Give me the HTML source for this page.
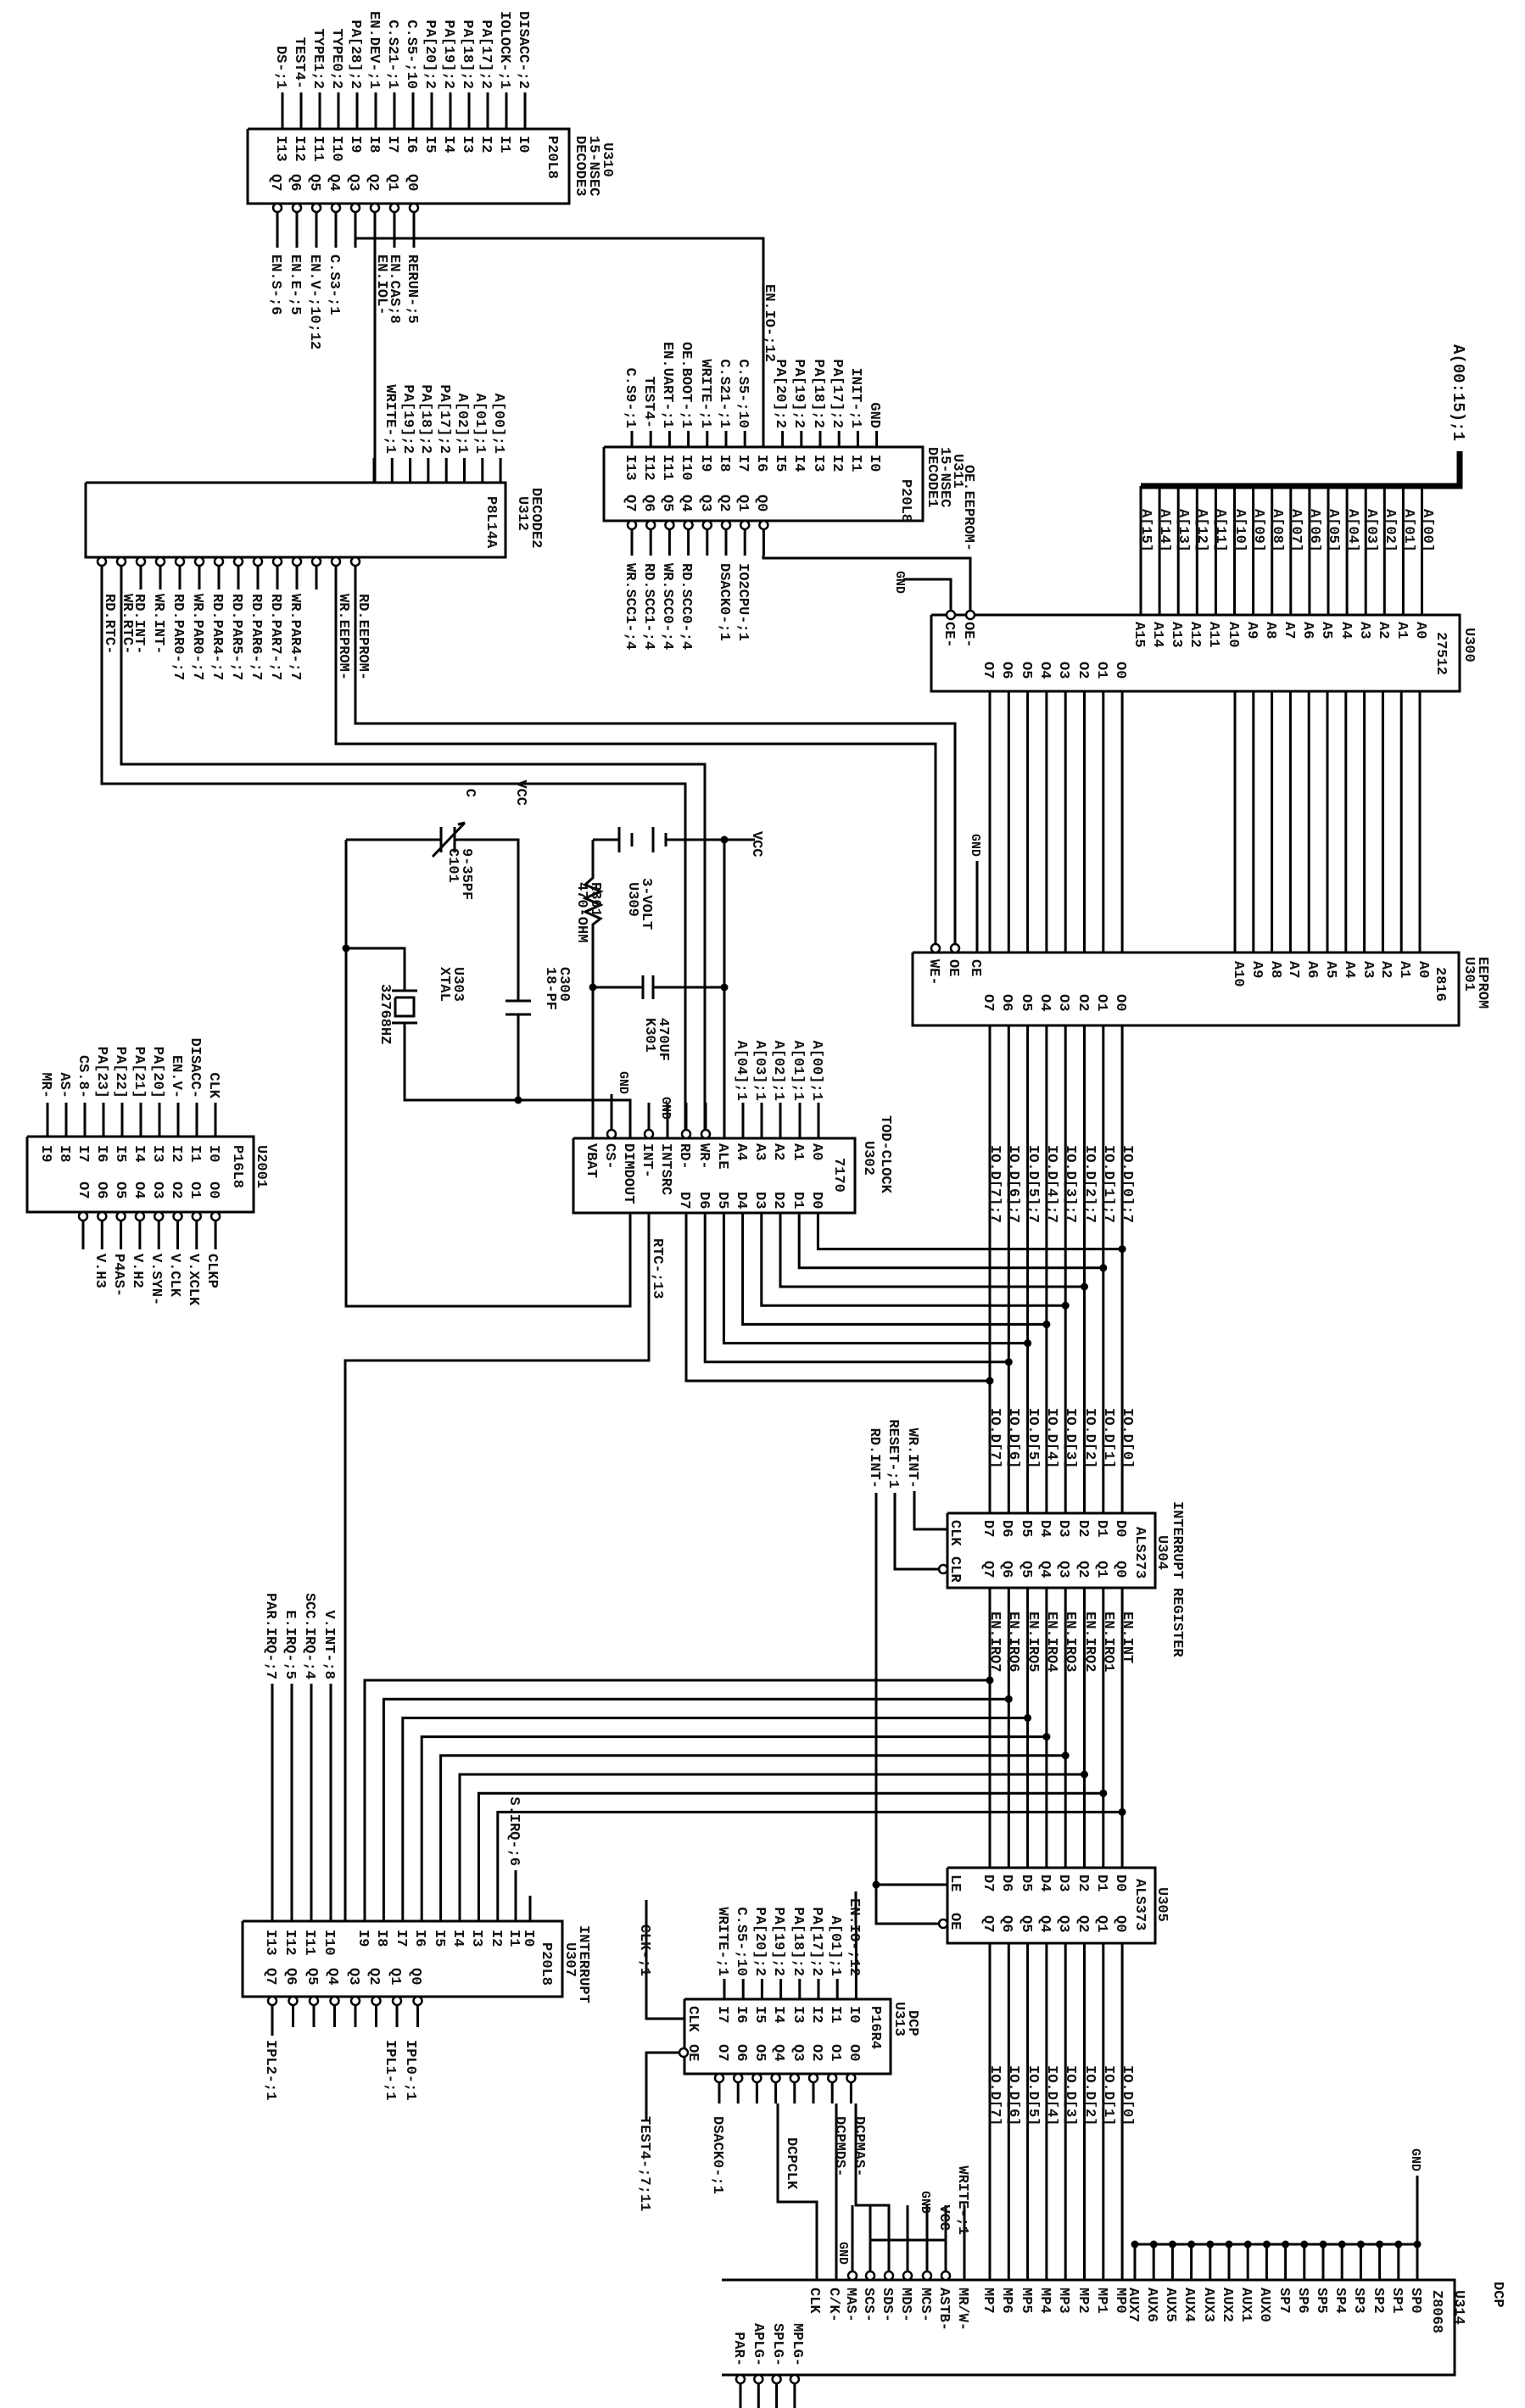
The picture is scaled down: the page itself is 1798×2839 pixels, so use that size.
<!DOCTYPE html>
<html><head><meta charset="utf-8">
<style>
html,body{margin:0;padding:0;background:#fff;}
svg{display:block;}
text{font-family:"Liberation Mono",monospace;font-weight:bold;font-size:17px;fill:#111;}
.e{text-anchor:end;}
.s{font-size:15px;}
.b{font-size:19px;}
</style></head>
<body>
<svg id="sv" xmlns="http://www.w3.org/2000/svg" width="1798" height="2839" viewBox="0 0 1798 2839">
<rect width="1798" height="2839" fill="#fff"/>
<g id="g" fill="none" stroke="#000" stroke-width="3"></g>
<g id="t">
<!-- U310 -->
<text transform="translate(327,105) rotate(90)" class="e">DS-;1</text>
<text transform="translate(349,105) rotate(90)" class="e">TEST4-</text>
<text transform="translate(371,105) rotate(90)" class="e">TYPE1;2</text>
<text transform="translate(393,105) rotate(90)" class="e">TYPE0;2</text>
<text transform="translate(415,105) rotate(90)" class="e">PA[28];2</text>
<text transform="translate(437,105) rotate(90)" class="e">EN.DEV-;1</text>
<text transform="translate(459,105) rotate(90)" class="e">C.S21-;1</text>
<text transform="translate(481,105) rotate(90)" class="e">C.S5-;10</text>
<text transform="translate(503,105) rotate(90)" class="e">PA[20];2</text>
<text transform="translate(525,105) rotate(90)" class="e">PA[19];2</text>
<text transform="translate(547,105) rotate(90)" class="e">PA[18];2</text>
<text transform="translate(569,105) rotate(90)" class="e">PA[17];2</text>
<text transform="translate(591,105) rotate(90)" class="e">IOLOCK-;1</text>
<text transform="translate(613,105) rotate(90)" class="e">DISACC-;2</text>
<text transform="translate(327,160) rotate(90)">I13</text><text transform="translate(349,160) rotate(90)">I12</text><text transform="translate(371,160) rotate(90)">I11</text><text transform="translate(393,160) rotate(90)">I10</text><text transform="translate(415,160) rotate(90)">I9</text><text transform="translate(437,160) rotate(90)">I8</text><text transform="translate(459,160) rotate(90)">I7</text><text transform="translate(481,160) rotate(90)">I6</text><text transform="translate(503,160) rotate(90)">I5</text><text transform="translate(525,160) rotate(90)">I4</text><text transform="translate(547,160) rotate(90)">I3</text><text transform="translate(569,160) rotate(90)">I2</text><text transform="translate(591,160) rotate(90)">I1</text><text transform="translate(613,160) rotate(90)">I0</text>
<text transform="translate(321,205) rotate(90)">Q7</text><text transform="translate(344,205) rotate(90)">Q6</text><text transform="translate(367,205) rotate(90)">Q5</text><text transform="translate(390,205) rotate(90)">Q4</text><text transform="translate(413,205) rotate(90)">Q3</text><text transform="translate(436,205) rotate(90)">Q2</text><text transform="translate(459,205) rotate(90)">Q1</text><text transform="translate(482,205) rotate(90)">Q0</text>
<text transform="translate(647,160) rotate(90)">P20L8</text>
<text transform="translate(680,160) rotate(90)">DECODE3</text>
<text transform="translate(696,160) rotate(90)">15-NSEC</text>
<text transform="translate(712,168) rotate(90)">U310</text>
<text transform="translate(321,300) rotate(90)">EN.S-;6</text>
<text transform="translate(344,300) rotate(90)">EN.E-;5</text>
<text transform="translate(367,300) rotate(90)">EN.V-;10;12</text>
<text transform="translate(390,300) rotate(90)">C.S3-;1</text>
<text transform="translate(446,300) rotate(90)">EN.IOL-</text>
<text transform="translate(461,300) rotate(90)">EN.CAS;8</text>
<text transform="translate(482,300) rotate(90)">RERUN-;5</text>
<text transform="translate(903,335) rotate(90)">EN.IO-;12</text>
<!-- U311 -->
<text transform="translate(739,505) rotate(90)" class="e">C.S9-;1</text>
<text transform="translate(761,505) rotate(90)" class="e">TEST4-</text>
<text transform="translate(783,505) rotate(90)" class="e">EN.UART-;1</text>
<text transform="translate(805,505) rotate(90)" class="e">OE.BOOT-;1</text>
<text transform="translate(828,505) rotate(90)" class="e">WRITE-;1</text>
<text transform="translate(850,505) rotate(90)" class="e">C.S21-;1</text>
<text transform="translate(872,505) rotate(90)" class="e">C.S5-;10</text>
<text transform="translate(916,505) rotate(90)" class="e">PA[20];2</text>
<text transform="translate(938,505) rotate(90)" class="e">PA[19];2</text>
<text transform="translate(961,505) rotate(90)" class="e">PA[18];2</text>
<text transform="translate(983,505) rotate(90)" class="e">PA[17];2</text>
<text transform="translate(1005,505) rotate(90)" class="e">INIT-;1</text>
<text transform="translate(1027,505) rotate(90)" class="e">GND</text>
<text transform="translate(739,536) rotate(90)">I13</text><text transform="translate(761,536) rotate(90)">I12</text><text transform="translate(783,536) rotate(90)">I11</text><text transform="translate(805,536) rotate(90)">I10</text><text transform="translate(828,536) rotate(90)">I9</text><text transform="translate(850,536) rotate(90)">I8</text><text transform="translate(872,536) rotate(90)">I7</text><text transform="translate(894,536) rotate(90)">I6</text><text transform="translate(916,536) rotate(90)">I5</text><text transform="translate(938,536) rotate(90)">I4</text><text transform="translate(961,536) rotate(90)">I3</text><text transform="translate(983,536) rotate(90)">I2</text><text transform="translate(1005,536) rotate(90)">I1</text><text transform="translate(1027,536) rotate(90)">I0</text>
<text transform="translate(739,583) rotate(90)">Q7</text><text transform="translate(761,583) rotate(90)">Q6</text><text transform="translate(783,583) rotate(90)">Q5</text><text transform="translate(805,583) rotate(90)">Q4</text><text transform="translate(828,583) rotate(90)">Q3</text><text transform="translate(850,583) rotate(90)">Q2</text><text transform="translate(872,583) rotate(90)">Q1</text><text transform="translate(894,583) rotate(90)">Q0</text>
<text transform="translate(1064,565) rotate(90)">P20L8</text>
<text transform="translate(1095,527) rotate(90)">DECODE1</text>
<text transform="translate(1110,527) rotate(90)">15-NSEC</text>
<text transform="translate(1125,535) rotate(90)">U311</text>
<text transform="translate(739,664) rotate(90)">WR.SCC1-;4</text>
<text transform="translate(761,664) rotate(90)">RD.SCC1-;4</text>
<text transform="translate(783,664) rotate(90)">WR.SCC0-;4</text>
<text transform="translate(805,664) rotate(90)">RD.SCC0-;4</text>
<text transform="translate(850,664) rotate(90)">DSACK0-;1</text>
<text transform="translate(872,664) rotate(90)">IO2CPU-;1</text>
<text transform="translate(1138,650) rotate(90)" class="e">OE.EEPROM-</text>
<text transform="translate(1057,700) rotate(90)" class="e s">GND</text>
<!-- U312 -->
<text transform="translate(456,535) rotate(90)" class="e">WRITE-;1</text>
<text transform="translate(477,535) rotate(90)" class="e">PA[19];2</text>
<text transform="translate(498,535) rotate(90)" class="e">PA[18];2</text>
<text transform="translate(520,535) rotate(90)" class="e">PA[17];2</text>
<text transform="translate(541,535) rotate(90)" class="e">A[02];1</text>
<text transform="translate(562,535) rotate(90)" class="e">A[01];1</text>
<text transform="translate(584,535) rotate(90)" class="e">A[00];1</text>
<text transform="translate(575,585) rotate(90)">P8L14A</text>
<text transform="translate(612,585) rotate(90)">U312</text>
<text transform="translate(628,575) rotate(90)">DECODE2</text>
<text transform="translate(125,700) rotate(90)">RD.RTC-</text>
<text transform="translate(146,700) rotate(90)">WR.RTC-</text>
<text transform="translate(160,700) rotate(90)">RD.INT-</text>
<text transform="translate(183,700) rotate(90)">WR.INT-</text>
<text transform="translate(206,700) rotate(90)">RD.PAR0-;7</text>
<text transform="translate(229,700) rotate(90)">WR.PAR0-;7</text>
<text transform="translate(252,700) rotate(90)">RD.PAR4-;7</text>
<text transform="translate(275,700) rotate(90)">RD.PAR5-;7</text>
<text transform="translate(298,700) rotate(90)">RD.PAR6-;7</text>
<text transform="translate(321,700) rotate(90)">RD.PAR7-;7</text>
<text transform="translate(344,700) rotate(90)">WR.PAR4-;7</text>
<text transform="translate(401,700) rotate(90)">WR.EEPROM-</text>
<text transform="translate(424,700) rotate(90)">RD.EEPROM-</text>
<!-- U300 -->
<text transform="translate(1714,520) rotate(90)" class="e b">A(00:15);1</text>
<g transform="translate(8,0)">
<text transform="translate(1339,600) rotate(90)">A[15]</text><text transform="translate(1361,600) rotate(90)">A[14]</text><text transform="translate(1383,600) rotate(90)">A[13]</text><text transform="translate(1405,600) rotate(90)">A[12]</text><text transform="translate(1427,600) rotate(90)">A[11]</text><text transform="translate(1450,600) rotate(90)">A[10]</text><text transform="translate(1472,600) rotate(90)">A[09]</text><text transform="translate(1494,600) rotate(90)">A[08]</text><text transform="translate(1516,600) rotate(90)">A[07]</text><text transform="translate(1538,600) rotate(90)">A[06]</text><text transform="translate(1560,600) rotate(90)">A[05]</text><text transform="translate(1583,600) rotate(90)">A[04]</text><text transform="translate(1605,600) rotate(90)">A[03]</text><text transform="translate(1627,600) rotate(90)">A[02]</text><text transform="translate(1649,600) rotate(90)">A[01]</text><text transform="translate(1671,600) rotate(90)">A[00]</text>
</g>
<text transform="translate(1339,733) rotate(90)">A15</text><text transform="translate(1361,733) rotate(90)">A14</text><text transform="translate(1383,733) rotate(90)">A13</text><text transform="translate(1405,733) rotate(90)">A12</text><text transform="translate(1427,733) rotate(90)">A11</text><text transform="translate(1450,733) rotate(90)">A10</text><text transform="translate(1472,733) rotate(90)">A9</text><text transform="translate(1494,733) rotate(90)">A8</text><text transform="translate(1516,733) rotate(90)">A7</text><text transform="translate(1538,733) rotate(90)">A6</text><text transform="translate(1560,733) rotate(90)">A5</text><text transform="translate(1583,733) rotate(90)">A4</text><text transform="translate(1605,733) rotate(90)">A3</text><text transform="translate(1627,733) rotate(90)">A2</text><text transform="translate(1649,733) rotate(90)">A1</text><text transform="translate(1671,733) rotate(90)">A0</text>
<text transform="translate(1115,733) rotate(90)">CE-</text><text transform="translate(1138,733) rotate(90)">OE-</text>
<text transform="translate(1161,780) rotate(90)">O7</text><text transform="translate(1183,780) rotate(90)">O6</text><text transform="translate(1206,780) rotate(90)">O5</text><text transform="translate(1228,780) rotate(90)">O4</text><text transform="translate(1250,780) rotate(90)">O3</text><text transform="translate(1273,780) rotate(90)">O2</text><text transform="translate(1295,780) rotate(90)">O1</text><text transform="translate(1317,780) rotate(90)">O0</text>
<text transform="translate(1695,745) rotate(90)">27512</text>
<text transform="translate(1728,740) rotate(90)">U300</text>
<!-- U301 -->
<text transform="translate(1456,1133) rotate(90)">A10</text><text transform="translate(1478,1133) rotate(90)">A9</text><text transform="translate(1500,1133) rotate(90)">A8</text><text transform="translate(1521,1133) rotate(90)">A7</text><text transform="translate(1543,1133) rotate(90)">A6</text><text transform="translate(1565,1133) rotate(90)">A5</text><text transform="translate(1587,1133) rotate(90)">A4</text><text transform="translate(1609,1133) rotate(90)">A3</text><text transform="translate(1630,1133) rotate(90)">A2</text><text transform="translate(1652,1133) rotate(90)">A1</text><text transform="translate(1674,1133) rotate(90)">A0</text>
<text transform="translate(1097,1131) rotate(90)">WE-</text><text transform="translate(1120,1131) rotate(90)">OE</text><text transform="translate(1146,1131) rotate(90)">CE</text>
<text transform="translate(1161,1172) rotate(90)">O7</text><text transform="translate(1183,1172) rotate(90)">O6</text><text transform="translate(1206,1172) rotate(90)">O5</text><text transform="translate(1228,1172) rotate(90)">O4</text><text transform="translate(1250,1172) rotate(90)">O3</text><text transform="translate(1273,1172) rotate(90)">O2</text><text transform="translate(1295,1172) rotate(90)">O1</text><text transform="translate(1317,1172) rotate(90)">O0</text>
<text transform="translate(1694,1140) rotate(90)">2816</text>
<text transform="translate(1728,1128) rotate(90)">U301</text>
<text transform="translate(1744,1128) rotate(90)">EEPROM</text>
<text transform="translate(1146,1010) rotate(90)" class="e s">GND</text>
<g transform="translate(8,0)">
<text transform="translate(1161,1350) rotate(90)">IO.D[7];7</text><text transform="translate(1183,1350) rotate(90)">IO.D[6];7</text><text transform="translate(1206,1350) rotate(90)">IO.D[5];7</text><text transform="translate(1228,1350) rotate(90)">IO.D[4];7</text><text transform="translate(1250,1350) rotate(90)">IO.D[3];7</text><text transform="translate(1273,1350) rotate(90)">IO.D[2];7</text><text transform="translate(1295,1350) rotate(90)">IO.D[1];7</text><text transform="translate(1317,1350) rotate(90)">IO.D[0];7</text>
</g>
<!-- U302 + crystal -->
<text transform="translate(693,1348) rotate(90)">VBAT</text><text transform="translate(715,1348) rotate(90)">CS-</text><text transform="translate(737,1348) rotate(90)">DIMDOUT</text><text transform="translate(759,1348) rotate(90)">INT-</text><text transform="translate(781,1348) rotate(90)">INTSRC</text><text transform="translate(803,1348) rotate(90)">RD-</text><text transform="translate(826,1348) rotate(90)">WR-</text><text transform="translate(848,1348) rotate(90)">ALE</text><text transform="translate(870,1348) rotate(90)">A4</text><text transform="translate(892,1348) rotate(90)">A3</text><text transform="translate(914,1348) rotate(90)">A2</text><text transform="translate(937,1348) rotate(90)">A1</text><text transform="translate(959,1348) rotate(90)">A0</text>
<text transform="translate(803,1405) rotate(90)">D7</text><text transform="translate(826,1405) rotate(90)">D6</text><text transform="translate(848,1405) rotate(90)">D5</text><text transform="translate(870,1405) rotate(90)">D4</text><text transform="translate(892,1405) rotate(90)">D3</text><text transform="translate(914,1405) rotate(90)">D2</text><text transform="translate(937,1405) rotate(90)">D1</text><text transform="translate(959,1405) rotate(90)">D0</text>
<text transform="translate(985,1365) rotate(90)">7170</text>
<text transform="translate(1020,1345) rotate(90)">U302</text>
<text transform="translate(1040,1315) rotate(90)">TOD-CLOCK</text>
<text transform="translate(870,1298) rotate(90)" class="e">A[04];1</text><text transform="translate(892,1298) rotate(90)" class="e">A[03];1</text><text transform="translate(914,1298) rotate(90)" class="e">A[02];1</text><text transform="translate(937,1298) rotate(90)" class="e">A[01];1</text><text transform="translate(959,1298) rotate(90)" class="e">A[00];1</text>
<text transform="translate(781,1320) rotate(90)" class="e s">GND</text><text transform="translate(731,1290) rotate(90)" class="e s">GND</text>
<text transform="translate(771,1460) rotate(90)">RTC-;13</text>
<text transform="translate(530,1000) rotate(90)">C101</text><text transform="translate(546,1000) rotate(90)">9-35PF</text>
<text transform="translate(610,950) rotate(90)" class="e">VCC</text><text transform="translate(550,940) rotate(90)" class="e">C</text>
<text transform="translate(520,1140) rotate(90)">XTAL</text><text transform="translate(536,1140) rotate(90)">U303</text>
<text transform="translate(450,1160) rotate(90)">32768HZ</text>
<text transform="translate(645,1140) rotate(90)">18-PF</text><text transform="translate(661,1140) rotate(90)">C300</text>
<text transform="translate(742,1040) rotate(90)">U309</text><text transform="translate(758,1035) rotate(90)">3-VOLT</text>
<text transform="translate(682,1040) rotate(90)">470-OHM</text><text transform="translate(698,1040) rotate(90)">R301</text>
<text transform="translate(762,1200) rotate(90)">K301</text><text transform="translate(778,1200) rotate(90)">470UF</text>
<text transform="translate(888,980) rotate(90)">VCC</text>
<!-- U2001 -->
<text transform="translate(50,1295) rotate(90)" class="e">MR-</text><text transform="translate(72,1295) rotate(90)" class="e">AS-</text><text transform="translate(94,1295) rotate(90)" class="e">CS.8-</text><text transform="translate(116,1295) rotate(90)" class="e">PA[23]</text><text transform="translate(138,1295) rotate(90)" class="e">PA[22]</text><text transform="translate(160,1295) rotate(90)" class="e">PA[21]</text><text transform="translate(182,1295) rotate(90)" class="e">PA[20]</text><text transform="translate(204,1295) rotate(90)" class="e">EN.V-</text><text transform="translate(226,1295) rotate(90)" class="e">DISACC-</text><text transform="translate(248,1295) rotate(90)" class="e">CLK</text>
<text transform="translate(50,1350) rotate(90)">I9</text><text transform="translate(72,1350) rotate(90)">I8</text><text transform="translate(94,1350) rotate(90)">I7</text><text transform="translate(116,1350) rotate(90)">I6</text><text transform="translate(138,1350) rotate(90)">I5</text><text transform="translate(160,1350) rotate(90)">I4</text><text transform="translate(182,1350) rotate(90)">I3</text><text transform="translate(204,1350) rotate(90)">I2</text><text transform="translate(226,1350) rotate(90)">I1</text><text transform="translate(248,1350) rotate(90)">I0</text>
<text transform="translate(94,1393) rotate(90)">O7</text><text transform="translate(116,1393) rotate(90)">O6</text><text transform="translate(138,1393) rotate(90)">O5</text><text transform="translate(160,1393) rotate(90)">O4</text><text transform="translate(182,1393) rotate(90)">O3</text><text transform="translate(204,1393) rotate(90)">O2</text><text transform="translate(226,1393) rotate(90)">O1</text><text transform="translate(248,1393) rotate(90)">O0</text>
<text transform="translate(276,1350) rotate(90)">P16L8</text><text transform="translate(304,1350) rotate(90)">U2001</text>
<text transform="translate(114,1478) rotate(90)">V.H3</text><text transform="translate(136,1478) rotate(90)">P4AS-</text><text transform="translate(158,1478) rotate(90)">V.H2</text><text transform="translate(180,1478) rotate(90)">V.SYN-</text><text transform="translate(202,1478) rotate(90)">V.CLK</text><text transform="translate(224,1478) rotate(90)">V.XCLK</text><text transform="translate(246,1478) rotate(90)">CLKP</text>
<!-- U304 -->
<g transform="translate(8,0)">
<text transform="translate(1161,1660) rotate(90)">IO.D[7]</text><text transform="translate(1183,1660) rotate(90)">IO.D[6]</text><text transform="translate(1206,1660) rotate(90)">IO.D[5]</text><text transform="translate(1228,1660) rotate(90)">IO.D[4]</text><text transform="translate(1250,1660) rotate(90)">IO.D[3]</text><text transform="translate(1273,1660) rotate(90)">IO.D[2]</text><text transform="translate(1295,1660) rotate(90)">IO.D[1]</text><text transform="translate(1317,1660) rotate(90)">IO.D[0]</text>
</g>
<text transform="translate(1072,1755) rotate(90)" class="e">WR.INT-</text><text transform="translate(1049,1755) rotate(90)" class="e">RESET-;1</text><text transform="translate(1027,1755) rotate(90)" class="e">RD.INT-</text>
<text transform="translate(1122,1792) rotate(90)">CLK</text><text transform="translate(1122,1835) rotate(90)">CLR</text>
<text transform="translate(1161,1792) rotate(90)">D7</text><text transform="translate(1183,1792) rotate(90)">D6</text><text transform="translate(1206,1792) rotate(90)">D5</text><text transform="translate(1228,1792) rotate(90)">D4</text><text transform="translate(1250,1792) rotate(90)">D3</text><text transform="translate(1273,1792) rotate(90)">D2</text><text transform="translate(1295,1792) rotate(90)">D1</text><text transform="translate(1317,1792) rotate(90)">D0</text>
<text transform="translate(1161,1840) rotate(90)">Q7</text><text transform="translate(1183,1840) rotate(90)">Q6</text><text transform="translate(1206,1840) rotate(90)">Q5</text><text transform="translate(1228,1840) rotate(90)">Q4</text><text transform="translate(1250,1840) rotate(90)">Q3</text><text transform="translate(1273,1840) rotate(90)">Q2</text><text transform="translate(1295,1840) rotate(90)">Q1</text><text transform="translate(1317,1840) rotate(90)">Q0</text>
<text transform="translate(1340,1800) rotate(90)">ALS273</text><text transform="translate(1366,1810) rotate(90)">U304</text><text transform="translate(1384,1770) rotate(90)">INTERRUPT REGISTER</text>
<g transform="translate(8,0)">
<text transform="translate(1161,1900) rotate(90)">EN.IRQ7</text><text transform="translate(1183,1900) rotate(90)">EN.IRQ6</text><text transform="translate(1206,1900) rotate(90)">EN.IRQ5</text><text transform="translate(1228,1900) rotate(90)">EN.IRQ4</text><text transform="translate(1250,1900) rotate(90)">EN.IRQ3</text><text transform="translate(1273,1900) rotate(90)">EN.IRQ2</text><text transform="translate(1295,1900) rotate(90)">EN.IRQ1</text><text transform="translate(1317,1900) rotate(90)">EN.INT</text>
</g>
<!-- U305 -->
<text transform="translate(1122,2210) rotate(90)">LE</text><text transform="translate(1122,2255) rotate(90)">OE</text>
<text transform="translate(1161,2210) rotate(90)">D7</text><text transform="translate(1183,2210) rotate(90)">D6</text><text transform="translate(1206,2210) rotate(90)">D5</text><text transform="translate(1228,2210) rotate(90)">D4</text><text transform="translate(1250,2210) rotate(90)">D3</text><text transform="translate(1273,2210) rotate(90)">D2</text><text transform="translate(1295,2210) rotate(90)">D1</text><text transform="translate(1317,2210) rotate(90)">D0</text>
<text transform="translate(1161,2258) rotate(90)">Q7</text><text transform="translate(1183,2258) rotate(90)">Q6</text><text transform="translate(1206,2258) rotate(90)">Q5</text><text transform="translate(1228,2258) rotate(90)">Q4</text><text transform="translate(1250,2258) rotate(90)">Q3</text><text transform="translate(1273,2258) rotate(90)">Q2</text><text transform="translate(1295,2258) rotate(90)">Q1</text><text transform="translate(1317,2258) rotate(90)">Q0</text>
<text transform="translate(1340,2215) rotate(90)">ALS373</text><text transform="translate(1366,2225) rotate(90)">U305</text>
<g transform="translate(8,0)">
<text transform="translate(1161,2435) rotate(90)">IO.D[7]</text><text transform="translate(1183,2435) rotate(90)">IO.D[6]</text><text transform="translate(1206,2435) rotate(90)">IO.D[5]</text><text transform="translate(1228,2435) rotate(90)">IO.D[4]</text><text transform="translate(1250,2435) rotate(90)">IO.D[3]</text><text transform="translate(1273,2435) rotate(90)">IO.D[2]</text><text transform="translate(1295,2435) rotate(90)">IO.D[1]</text><text transform="translate(1317,2435) rotate(90)">IO.D[0]</text>
</g>
<!-- U307 -->
<text transform="translate(315,1980) rotate(90)" class="e">PAR.IRQ-;7</text><text transform="translate(338,1980) rotate(90)" class="e">E.IRQ-;5</text><text transform="translate(361,1980) rotate(90)" class="e">SCC.IRQ-;4</text><text transform="translate(384,1980) rotate(90)" class="e">V.INT-;8</text>
<text transform="translate(602,2200) rotate(90)" class="e">S.IRQ-;6</text>
<text transform="translate(315,2275) rotate(90)">I13</text><text transform="translate(338,2275) rotate(90)">I12</text><text transform="translate(361,2275) rotate(90)">I11</text><text transform="translate(384,2275) rotate(90)">I10</text><text transform="translate(424,2275) rotate(90)">I9</text><text transform="translate(446,2275) rotate(90)">I8</text><text transform="translate(469,2275) rotate(90)">I7</text><text transform="translate(491,2275) rotate(90)">I6</text><text transform="translate(514,2275) rotate(90)">I5</text><text transform="translate(536,2275) rotate(90)">I4</text><text transform="translate(558,2275) rotate(90)">I3</text><text transform="translate(581,2275) rotate(90)">I2</text><text transform="translate(602,2275) rotate(90)">I1</text><text transform="translate(619,2275) rotate(90)">I0</text>
<text transform="translate(315,2320) rotate(90)">Q7</text><text transform="translate(339,2320) rotate(90)">Q6</text><text transform="translate(364,2320) rotate(90)">Q5</text><text transform="translate(388,2320) rotate(90)">Q4</text><text transform="translate(413,2320) rotate(90)">Q3</text><text transform="translate(437,2320) rotate(90)">Q2</text><text transform="translate(462,2320) rotate(90)">Q1</text><text transform="translate(486,2320) rotate(90)">Q0</text>
<text transform="translate(640,2290) rotate(90)">P20L8</text><text transform="translate(668,2290) rotate(90)">U307</text><text transform="translate(684,2270) rotate(90)">INTERRUPT</text>
<text transform="translate(315,2405) rotate(90)">IPL2-;1</text><text transform="translate(456,2405) rotate(90)">IPL1-;1</text><text transform="translate(480,2405) rotate(90)">IPL0-;1</text>
<!-- U313 -->
<text transform="translate(756,2330) rotate(90)" class="e">CLK-;1</text>
<text transform="translate(848,2330) rotate(90)" class="e">WRITE-;1</text><text transform="translate(870,2330) rotate(90)" class="e">C.S5-;10</text><text transform="translate(892,2330) rotate(90)" class="e">PA[20];2</text><text transform="translate(914,2330) rotate(90)" class="e">PA[19];2</text><text transform="translate(937,2330) rotate(90)" class="e">PA[18];2</text><text transform="translate(959,2330) rotate(90)" class="e">PA[17];2</text><text transform="translate(981,2330) rotate(90)" class="e">A[01];1</text><text transform="translate(1003,2330) rotate(90)" class="e">EN.IO-;12</text>
<text transform="translate(813,2365) rotate(90)">CLK</text><text transform="translate(813,2410) rotate(90)">OE</text>
<text transform="translate(848,2365) rotate(90)">I7</text><text transform="translate(870,2365) rotate(90)">I6</text><text transform="translate(892,2365) rotate(90)">I5</text><text transform="translate(914,2365) rotate(90)">I4</text><text transform="translate(937,2365) rotate(90)">I3</text><text transform="translate(959,2365) rotate(90)">I2</text><text transform="translate(981,2365) rotate(90)">I1</text><text transform="translate(1003,2365) rotate(90)">I0</text>
<text transform="translate(848,2410) rotate(90)">O7</text><text transform="translate(870,2410) rotate(90)">O6</text><text transform="translate(892,2410) rotate(90)">O5</text><text transform="translate(914,2410) rotate(90)">Q4</text><text transform="translate(937,2410) rotate(90)">Q3</text><text transform="translate(959,2410) rotate(90)">O2</text><text transform="translate(981,2410) rotate(90)">O1</text><text transform="translate(1003,2410) rotate(90)">O0</text>
<text transform="translate(1028,2365) rotate(90)">P16R4</text><text transform="translate(1056,2360) rotate(90)">U313</text><text transform="translate(1072,2370) rotate(90)">DCP</text>
<text transform="translate(756,2495) rotate(90)">TEST4-;7;11</text>
<text transform="translate(842,2495) rotate(90)">DSACK0-;1</text>
<text transform="translate(929,2520) rotate(90)">DCPCLK</text>
<text transform="translate(986,2495) rotate(90)">DCPMDS-</text>
<text transform="translate(1009,2495) rotate(90)">DCPMAS-</text>
<!-- U314 -->
<text transform="translate(1131,2635) rotate(90)" class="e">WRITE-;1</text>
<text transform="translate(1109,2630) rotate(90)" class="e">VCC</text>
<text transform="translate(1087,2610) rotate(90)" class="e s">GND</text>
<text transform="translate(990,2670) rotate(90)" class="e s">GND</text>
<text transform="translate(1665,2560) rotate(90)" class="e s">GND</text>
<text transform="translate(956,2697) rotate(90)">CLK</text><text transform="translate(979,2697) rotate(90)">C/K-</text><text transform="translate(999,2697) rotate(90)">MAS-</text><text transform="translate(1020,2697) rotate(90)">SCS-</text><text transform="translate(1042,2697) rotate(90)">SDS-</text><text transform="translate(1064,2697) rotate(90)">MDS-</text><text transform="translate(1087,2697) rotate(90)">MCS-</text><text transform="translate(1109,2697) rotate(90)">ASTB-</text><text transform="translate(1131,2697) rotate(90)">MR/W-</text>
<text transform="translate(1161,2697) rotate(90)">MP7</text><text transform="translate(1183,2697) rotate(90)">MP6</text><text transform="translate(1206,2697) rotate(90)">MP5</text><text transform="translate(1228,2697) rotate(90)">MP4</text><text transform="translate(1250,2697) rotate(90)">MP3</text><text transform="translate(1273,2697) rotate(90)">MP2</text><text transform="translate(1295,2697) rotate(90)">MP1</text><text transform="translate(1317,2697) rotate(90)">MP0</text>
<text transform="translate(1332,2697) rotate(90)">AUX7</text><text transform="translate(1354,2697) rotate(90)">AUX6</text><text transform="translate(1376,2697) rotate(90)">AUX5</text><text transform="translate(1398,2697) rotate(90)">AUX4</text><text transform="translate(1421,2697) rotate(90)">AUX3</text><text transform="translate(1443,2697) rotate(90)">AUX2</text><text transform="translate(1465,2697) rotate(90)">AUX1</text><text transform="translate(1487,2697) rotate(90)">AUX0</text><text transform="translate(1510,2697) rotate(90)">SP7</text><text transform="translate(1532,2697) rotate(90)">SP6</text><text transform="translate(1554,2697) rotate(90)">SP5</text><text transform="translate(1576,2697) rotate(90)">SP4</text><text transform="translate(1598,2697) rotate(90)">SP3</text><text transform="translate(1621,2697) rotate(90)">SP2</text><text transform="translate(1643,2697) rotate(90)">SP1</text><text transform="translate(1665,2697) rotate(90)">SP0</text>
<text transform="translate(1690,2700) rotate(90)">Z8068</text><text transform="translate(1716,2700) rotate(90)">U314</text><text transform="translate(1762,2690) rotate(90)">DCP</text>
<text transform="translate(867,2790) rotate(90)" class="e">PAR-</text><text transform="translate(890,2790) rotate(90)" class="e">APLG-</text><text transform="translate(913,2790) rotate(90)" class="e">SPLG-</text><text transform="translate(936,2790) rotate(90)" class="e">MPLG-</text>
</g>
<g id="d" fill="#000" stroke="none"></g>
<g id="bb" fill="#fff" stroke="#000" stroke-width="2.5"></g>
</svg>
<script>
var NS="http://www.w3.org/2000/svg";
var G=document.getElementById('g'),Dg=document.getElementById('d'),Bg=document.getElementById('bb');
function L(a,w){var p=document.createElementNS(NS,'polyline');var s=[];for(var i=0;i<a.length;i+=2)s.push(a[i]+','+a[i+1]);p.setAttribute('points',s.join(' '));if(w)p.setAttribute('stroke-width',w);G.appendChild(p);}
function R(x1,y1,x2,y2){L([x1,y1,x2,y1,x2,y2,x1,y2,x1,y1]);}
function D(x,y){var c=document.createElementNS(NS,'circle');c.setAttribute('cx',x);c.setAttribute('cy',y);c.setAttribute('r',4.5);Dg.appendChild(c);}
function B(x,y){var c=document.createElementNS(NS,'circle');c.setAttribute('cx',x);c.setAttribute('cy',y);c.setAttribute('r',5);Bg.appendChild(c);}
var i,x,y;
function xd(i){return 1167+22.3*i;}
// U310
R(292,152,671,240);
for(i=0;i<14;i++){x=333+22*i;L([x,109,x,152]);}
for(i=0;i<8;i++){x=327+23*i;B(x,245);L([x,250,x,292]);}
L([419,281,900,281,900,527]);
L([442,281,442,569]);
// U311
R(712,527,1088,614);
for(i=0;i<14;i++){x=745+22.2*i;if(i!=7)L([x,508,x,527]);}
for(i=0;i<8;i++){x=745+22.2*i;B(x,619);L([x,624,x,655]);}
L([900,655,900,658,1144,658,1144,720]);B(1144,725);
L([1065,683,1121,683,1121,720]);B(1121,725);
// U312
R(101,569,596,657);
for(i=0;i<8;i++){x=441+21.3*i;L([x,540,x,569]);}
for(i=0;i<14;i++){x=120+23*i;B(x,662);L([x,667,x,695]);}
L([120,695,120,924,808,924,808,1335]);
L([143,695,143,901,831,901,831,1335]);
L([396,695,396,877,1103,877,1103,1118]);
L([419,695,419,853,1126,853,1126,1118]);
B(1103,1118);B(1126,1118);
// U300
R(1098,725,1721,815);
L([1345,573,1721,573,1721,532],7);
for(i=0;i<16;i++){x=1345+22.1*i;L([x,573,x,725]);}
for(i=0;i<8;i++){L([xd(i),815,xd(i),1123]);}
for(i=0;i<11;i++){x=1456+21.8*i;L([x,815,x,1123]);}
// U301
R(1076,1123,1720,1209);
L([1152,1123,1152,1015]);
for(i=0;i<8;i++){L([xd(i),1209,xd(i),1784]);}
// U302
R(676,1342,1008,1430);
var tp=[699,721,743,765,787,809,832,854,876,898,920,943,965];
for(i=0;i<13;i++){x=tp[i];if(i==1||i==3||i==5||i==6)B(x,1337);L([x,1300,x,(i==1||i==3||i==5||i==6)?1332:1342]);}
for(i=0;i<8;i++){x=809+22.2*i;y=1628-22.2*i;L([x,1430,x,y,xd(i),y]);D(xd(i),y);}
L([765,1430,765,1604,407,1604,407,2266]);
// crystal area
L([408,990,520,990]);L([536,990,611,990,611,1180]);L([611,1196,611,1297]);
L([520,975,520,1005]);L([536,975,536,1005]);L([510,1010,548,970]);L([548,970,540,972]);
L([596,1180,626,1180]);L([596,1196,626,1196]);
L([408,990,408,1540,743,1540,743,1430]);
L([408,1118,477,1118,477,1168]);L([462,1168,492,1168]);R(466,1176,488,1198);L([462,1206,492,1206]);L([477,1206,477,1297,743,1297,743,1342]);D(611,1297);D(408,1118);
L([699,990,730,990]);L([730,975,730,1005]);L([745,982,745,998]);L([770,975,770,1005]);L([785,982,785,998]);L([785,990,854,990,890,990]);
L([699,990,699,1035,690,1043,708,1051,690,1059,708,1067,690,1075,708,1083,699,1090,699,1300]);
L([699,1164,758,1164]);L([758,1150,758,1178]);L([770,1150,770,1178]);L([770,1164,854,1164]);
L([854,990,854,1300]);D(854,990);D(699,1164);D(854,1164);
L([721,1300,721,1290]);L([787,1300,787,1320]);
// U2001
R(32,1340,299,1429);
for(i=0;i<10;i++){x=56+22*i;L([x,1300,x,1340]);}
for(i=0;i<8;i++){x=98+22.3*i;B(x,1434);L([x,1439,x,1473]);}
// U304
R(1117,1784,1362,1872);
L([1078,1758,1078,1803,1117,1803]);
L([1055,1760,1055,1850,1107,1850]);B(1112,1850);
L([1033,1760,1033,2268,1107,2268]);B(1112,2268);
L([1033,2222,1118,2222]);D(1033,2222);
for(i=0;i<8;i++){L([xd(i),1872,xd(i),2202]);}
for(i=0;i<8;i++){y=1981+22.2*i;x=430+22.4*i;L([x,2266,x,y,xd(i),y]);D(xd(i),y);}
// U307
R(286,2265,663,2354);
var up=[321,344,367,390];for(i=0;i<4;i++){L([up[i],1985,up[i],2265]);}
L([608,2205,608,2265]);L([625,2235,625,2265]);
for(i=0;i<8;i++){x=321+24.5*i;B(x,2359);L([x,2364,x,2390]);}
L([321,2390,321,2400]);
// U305
R(1117,2202,1362,2291);
for(i=0;i<8;i++){L([xd(i),2291,xd(i),2688]);}
// U313
R(807,2357,1050,2445);
for(i=0;i<8;i++){x=854+22.2*i;L([x,(i==7?2270:2333),x,2357]);}
L([1009,2270,1009,2230]);
L([762,2240,762,2380,807,2380]);
L([762,2500,762,2420,801,2420]);B(806,2420);
for(i=0;i<8;i++){x=848+22.2*i;B(x,2450);L([x,2455,x,2480]);}
L([917,2480,917,2596,963,2596,963,2688]);
L([986,2480,986,2688]);L([1009,2480,1009,2600,1048,2600,1048,2688]);
// U314
L([851,2688,1715,2688,1715,2800,851,2800]);
var sp=[963,986,1005,1026,1048,1070,1093,1115,1137];
for(i=0;i<sp.length;i++){x=sp[i];if(i>=2&&i<=7)B(x,2683);L([x,2600,x,(i>=2&&i<=7)?2678:2688]);}
L([1026,2641,1115,2641]);
for(i=0;i<16;i++){x=1338+22.2*i;L([x,2646,x,2688]);D(x,2646);}
L([1338,2646,1671,2646]);L([1671,2565,1671,2646]);
for(i=0;i<4;i++){x=873+21.3*i;B(x,2805);L([x,2810,x,2839]);}
</script>
</body></html>
